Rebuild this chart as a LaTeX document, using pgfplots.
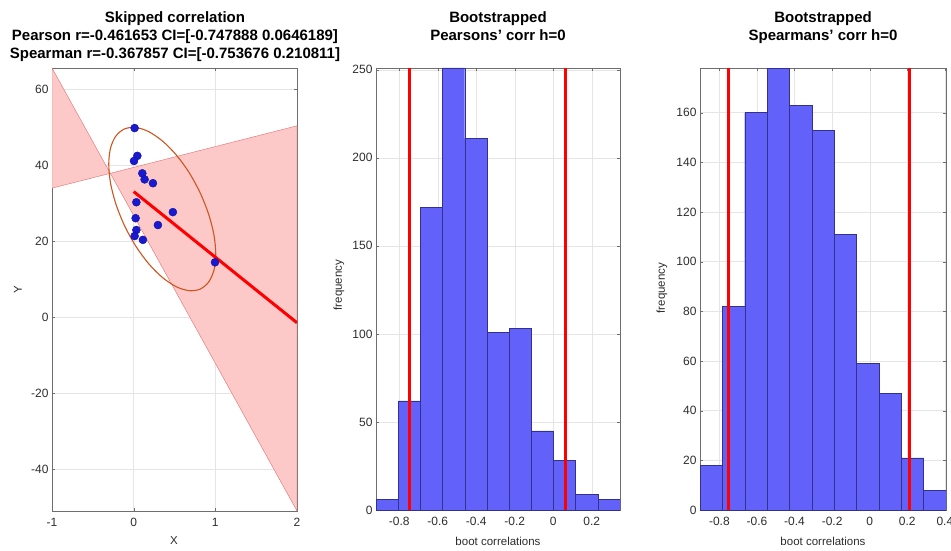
\documentclass[border=0pt]{standalone}
\usepackage{fontspec}
\setmainfont{Liberation Sans}
\usepackage{pgfplots}
\pgfplotsset{compat=1.18}
\definecolor{barblue}{RGB}{98,98,250}
\definecolor{baredge}{RGB}{50,50,140}
\definecolor{pinkfill}{RGB}{252,200,200}
\definecolor{pinkedge}{RGB}{225,110,110}
\definecolor{ellcol}{RGB}{205,85,30}
\definecolor{ptblue}{RGB}{25,25,210}
\definecolor{axgray}{RGB}{110,110,110}
\definecolor{txtgray}{RGB}{45,45,45}
\pgfplotsset{mystyle/.style={scale only axis, anchor=south west,
  axis line style={axgray}, tick align=inside, major tick length=3pt,
  tick style={axgray}, grid=major, grid style={black!10},
  ticklabel style={font=\fontsize{12}{12}\selectfont, text=txtgray},
  xticklabel style={yshift=-4pt},
  /pgf/number format/assume math mode=true}}
\begin{document}
\begin{tikzpicture}
\useasboundingbox (0,0) rectangle (951pt,550pt);
% ---------- left: scatter ----------
\begin{axis}[mystyle, at={(52pt,39pt)}, width=245pt, height=443pt,
  xmin=-1, xmax=2, ymin=-51, ymax=65.5,
  xtick={-1,0,1,2}, ytick={-40,-20,0,20,40,60}]
\addplot[fill=pinkfill, draw=pinkedge, thin] coordinates {(-1,65.5) (-1,33.9) (-0.286,37.8)} -- cycle;
\addplot[fill=pinkfill, draw=pinkedge, thin] coordinates {(-0.286,37.8) (2,50.3) (2,-51)} -- cycle;
\addplot[ellcol, line width=1.1pt, smooth cycle] coordinates {
(1.005,16.56) (0.983,21.61) (0.917,27.12) (0.813,32.72) (0.678,38.03) (0.520,42.67)
(0.350,46.35) (0.180,48.80) (0.0225,49.87) (-0.113,49.47) (-0.217,47.63) (-0.283,44.48)
(-0.305,40.24) (-0.283,35.19) (-0.217,29.68) (-0.113,24.08) (0.0225,18.78) (0.180,14.13)
(0.350,10.45) (0.520,8.00) (0.678,6.94) (0.813,7.34) (0.917,9.17) (0.983,12.32)};
\addplot[red, line width=3pt] coordinates {(0,33) (2,-1.5)};
\addplot[only marks, mark=*, mark size=4pt, mark options={fill=ptblue, draw=ptblue!70!black}] coordinates {
(0.012,49.7) (0.045,42.4) (0.004,41.05) (0.106,37.8) (0.134,36.2) (0.236,35.2)
(0.033,30.2) (0.024,26.0) (0.48,27.6) (0.297,24.2) (0.033,22.9) (0.012,21.3)
(0.113,20.3) (0.996,14.4)};
\end{axis}
% ---------- middle: Pearson histogram ----------
\begin{axis}[mystyle, at={(376pt,40pt)}, width=244pt, height=442pt,
  xmin=-0.921, xmax=0.347, ymin=0, ymax=251,
  xtick={-0.8,-0.6,-0.4,-0.2,0,0.2}, ytick={0,50,100,150,200,250}]
\addplot[ybar interval, fill=barblue, draw=baredge, thin] coordinates {
(-0.921,6) (-0.8057,62) (-0.6905,172) (-0.5752,251) (-0.4599,211) (-0.3447,101)
(-0.2294,103) (-0.1141,45) (0.0012,28) (0.1164,9) (0.2317,6) (0.347,6)};
\addplot[red, line width=3pt] coordinates {(-0.747888,0) (-0.747888,251)};
\addplot[red, line width=3pt] coordinates {(0.0646189,0) (0.0646189,251)};
\end{axis}
% ---------- right: Spearman histogram ----------
\begin{axis}[mystyle, at={(700pt,40pt)}, width=246pt, height=442pt,
  xmin=-0.903, xmax=0.406, ymin=0, ymax=178,
  xtick={-0.8,-0.6,-0.4,-0.2,0,0.2,0.4}, ytick={0,20,40,60,80,100,120,140,160}]
\addplot[ybar interval, fill=barblue, draw=baredge, thin] coordinates {
(-0.903,18) (-0.784,82) (-0.665,160) (-0.546,178) (-0.427,163) (-0.308,153)
(-0.189,111) (-0.070,59) (0.049,47) (0.168,21) (0.287,8) (0.406,8)};
\addplot[red, line width=3pt] coordinates {(-0.753676,0) (-0.753676,178)};
\addplot[red, line width=3pt] coordinates {(0.210811,0) (0.210811,178)};
\end{axis}
% ---------- titles and labels ----------
\begin{scope}[every node/.style={font=\fontsize{15}{18}\selectfont\bfseries, anchor=base, inner sep=0pt}]
\node at (175pt,527pt) {Skipped correlation};
\node at (175pt,509pt) {Pearson r=-0.461653 CI=[-0.747888 0.0646189]};
\node at (175pt,491pt) {Spearman r=-0.367857 CI=[-0.753676 0.210811]};
\node at (498pt,527pt) {Bootstrapped};
\node at (498pt,509pt) {Pearsons' corr h=0};
\node at (823pt,527pt) {Bootstrapped};
\node at (823pt,509pt) {Spearmans' corr h=0};
\end{scope}
\begin{scope}[every node/.style={font=\fontsize{11.5}{12}\selectfont, text=txtgray, inner sep=0pt}]
\node at (174pt,9pt) {X};
\node[rotate=90] at (18pt,260pt) {Y};
\node at (498pt,9pt) {boot correlations};
\node at (823pt,9pt) {boot correlations};
\node[rotate=90] at (339pt,265pt) {frequency};
\node[rotate=90] at (662pt,262pt) {frequency};
\end{scope}
\end{tikzpicture}
\end{document}
